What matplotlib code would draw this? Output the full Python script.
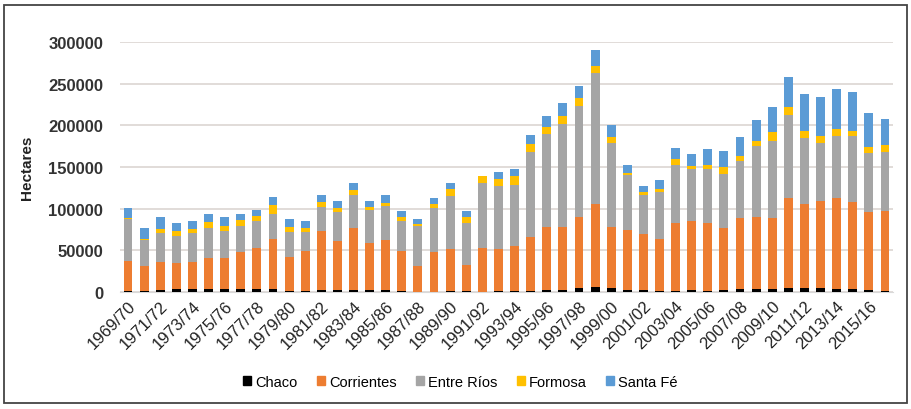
import matplotlib
matplotlib.use("Agg")
import matplotlib.pyplot as plt
import matplotlib.patches as mpatches
import numpy as np

# ── Data (hectares per province, 1969/70 – 2016/17) ───────────────────────────
seasons = [f"{y}/{str(y + 1)[-2:]}" for y in range(1969, 2017)]

chaco = [1000, 1500, 3000, 4000, 3500, 3500, 3500, 3500, 3500, 4000,
         1000, 1500, 2500, 3000, 2500, 3000, 2000, 1000, 500, 500,
         1500, 1500, 500, 1000, 1000, 1000, 2500, 2500, 5000, 6000,
         5000, 2500, 2500, 1500, 1500, 2000, 1500, 2500, 3500, 3500,
         3500, 4500, 4500, 4500, 3500, 3500, 3000, 1500]

corrientes = [36300, 29900, 33500, 31300, 33000, 37800, 37800, 44900, 49700, 59100,
              40600, 48100, 71100, 58600, 73900, 55400, 60300, 48200, 30900, 47500,
              50500, 31100, 52900, 50600, 54600, 64600, 75100, 75100, 84600, 99600,
              72600, 71800, 66800, 61800, 81000, 83600, 81300, 73900, 84900, 86900,
              84900, 107900, 101100, 105100, 108900, 104100, 92600, 95300]

entre_rios = [50700, 31600, 34500, 31700, 33800, 35300, 31700, 30600, 31800, 30900,
              30000, 22000, 28800, 34800, 40000, 39600, 40500, 36600, 47600, 52800,
              62700, 50400, 77600, 75200, 73200, 102800, 112000, 124000, 134000, 156800,
              101200, 66700, 46800, 56600, 70500, 62000, 64800, 65200, 68400, 84400,
              93200, 100000, 79200, 69200, 75200, 79200, 71200, 70800]

formosa = [1000, 1000, 4800, 6000, 5500, 7200, 6000, 7100, 6000, 10800,
           6000, 4800, 6000, 4000, 6400, 3600, 4000, 3900, 3200, 5200,
           8800, 7100, 7700, 8800, 10000, 9200, 8000, 10000, 8800, 9200,
           7800, 2400, 3800, 3600, 7000, 4000, 4800, 8000, 6800, 6800,
           10000, 9200, 8800, 8800, 8000, 6800, 6800, 8800]

santa_fe = [11800, 13000, 13900, 10000, 9900, 10200, 10700, 7900, 7000, 9100,
            10000, 8400, 8400, 8400, 8000, 8000, 9100, 7200, 5900, 6700,
            7100, 6800, 0, 8800, 8800, 10800, 14000, 15200, 15200, 19200,
            14000, 9600, 7200, 10800, 12300, 14000, 19200, 19200, 22000, 25200,
            30000, 36000, 44000, 46000, 48000, 46000, 41200, 31200]

series = [
    ("Chaco",      chaco,      "#000000"),
    ("Corrientes", corrientes, "#ED7D31"),
    ("Entre Ríos", entre_rios, "#A5A5A5"),
    ("Formosa",    formosa,    "#FFC000"),
    ("Santa Fé",   santa_fe,   "#5B9BD5"),
]

# ── Figure ────────────────────────────────────────────────────────────────────
plt.rcParams['font.family'] = ['Liberation Sans', 'DejaVu Sans']
fig = plt.figure(figsize=(9.12, 4.10), dpi=100)
fig.patch.set_facecolor('white')
ax = fig.add_axes([120 / 912, 117 / 410, 773 / 912, 250 / 410])

x = np.arange(len(seasons))
bottom = np.zeros(len(seasons))
for name, vals, color in series:
    ax.bar(x, vals, bottom=bottom, width=0.55, color=color,
           label=name, zorder=3, linewidth=0)
    bottom += np.array(vals)

ax.set_xlim(-0.5, len(seasons) - 0.5)
ax.set_ylim(0, 300000)
ax.set_yticks(range(0, 300001, 50000))
ax.tick_params(axis='y', length=0, pad=12, labelsize=12, labelcolor='#333333')
for lbl in ax.get_yticklabels():
    lbl.set_fontweight('bold')

ax.set_xticks(x[::2])
ax.set_xticklabels(seasons[::2], rotation=45, ha='right',
                   rotation_mode='anchor', fontsize=12, color='#222222')
ax.tick_params(axis='x', length=0, pad=4)

ax.yaxis.grid(True, color='#DCD6D2', linewidth=1.2, zorder=0)
ax.set_axisbelow(True)
for side in ['top', 'right', 'left']:
    ax.spines[side].set_visible(False)
ax.spines['bottom'].set_color('#D9D9D9')

ax.set_ylabel('Hectares', fontsize=11, fontweight='bold',
              color='#222222', labelpad=10)

# ── Legend ────────────────────────────────────────────────────────────────────
handles = [mpatches.Patch(color=c, label=n) for n, _, c in series]
fig.legend(handles=handles, loc='center', bbox_to_anchor=(0.505, 0.066),
           ncol=5, frameon=False, handlelength=0.55,
           handleheight=0.55, handletextpad=0.3, columnspacing=1.3,
           prop={'size': 10.5})

# ── Outer frame ───────────────────────────────────────────────────────────────
fig.add_artist(mpatches.Rectangle((4 / 912, 6 / 410), 903 / 912, 398 / 410,
                                  transform=fig.transFigure, fill=False,
                                  edgecolor='#444444', linewidth=1.3))

fig.savefig('out.png', dpi=100)
